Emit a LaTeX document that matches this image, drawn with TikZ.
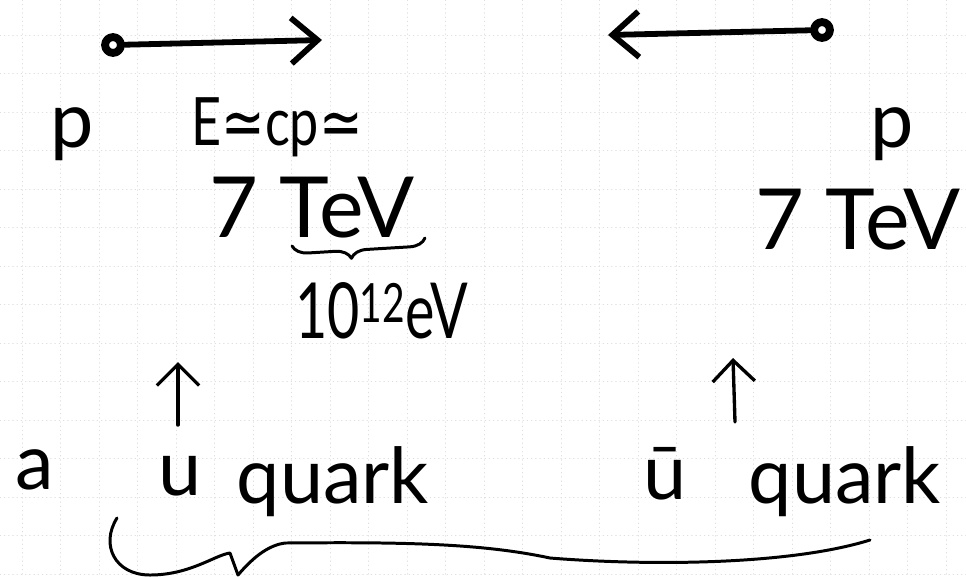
\documentclass[tikz,border=0pt]{standalone}
\usepackage{fontspec}
\setmainfont{Lato}
\newfontfamily\symfont{DejaVu Sans}
\usetikzlibrary{arrows.meta,decorations.pathreplacing}

\begin{document}
\begin{tikzpicture}[x=0.02cm,y=-0.02cm,line cap=round,line join=round]
 \tikzset{
  ink/.style={line width=1.7pt},
  beam/.style={line width=3.3pt,-{Straight Barb[length=15pt,width=26pt,line width=3.3pt]}},
  uparrow/.style={line width=1.9pt,-{Straight Barb[length=12pt,width=24pt,line width=1.9pt]}},
  proton/.style={draw,circle,line width=4.5pt,minimum size=9pt,inner sep=0pt},
  big/.style={font=\fontsize{44}{50}\selectfont},
  mid/.style={font=\fontsize{38}{44}\selectfont,xscale=0.78,transform shape},
 }
 \useasboundingbox (0,0) rectangle (966,576);
 \foreach \x in {22,60.5,...,966} \draw[gray!25,dotted] (\x,0)--(\x,576); %grid
 \foreach \y in {35,73.5,...,576} \draw[gray!25,dotted] (0,\y)--(966,\y);

 \node[proton] (pA) at (113,45) {}; %left proton
 \coordinate (pAend) at (322,40);
 \draw[beam] (pA)--(pAend);
 \node[proton] (pB) at (822,30) {}; %right proton
 \coordinate (pBend) at (608,35);
 \draw[beam] (pB)--(pBend);

 \node[big] (pL) at (72,134) {p};
 \node[mid] (E) at (277,127) {E{\symfont≃}cp{\symfont≃}};
 \node[big,font=\fontsize{48}{54}\selectfont] (sevenL) at (312,208) {7 TeV};
 \coordinate (brA) at (292,246);
 \coordinate (brB) at (425,238);
 \draw[ink,decorate,decoration={brace,mirror,amplitude=9pt,aspect=0.44}] (brA)--(brB); %TeV brace
 \node[big,font=\fontsize{44}{50}\selectfont,xscale=0.72,transform shape] (tenL) at (382,311) {10\textsuperscript{12}eV};

 \node[big] (pR) at (892,134) {p};
 \node[big,font=\fontsize{48}{54}\selectfont] (sevenR) at (858,220) {7 TeV};

 \coordinate (upA1) at (178,425);
 \coordinate (upA2) at (178,362);
 \draw[uparrow] (upA1)--(upA2);
 \coordinate (upB1) at (735,422);
 \coordinate (upB2) at (733,358);
 \draw[uparrow] (upB1)--(upB2);

 \node[big] (a) at (35,470) {a};
 \node[big] (uL) at (180,476) {u};
 \node[big] (quarkL) at (333,482) {quark};
 \node[big] (ubar) at (665,474) {\={u}};
 \node[big] (quarkR) at (845,482) {quark};

 \draw[ink] (117,518) .. controls (100,545) and (115,575) .. (150,575)
  .. controls (190,575) and (215,555) .. (230,553) -- (238,575)
  .. controls (255,555) and (270,545) .. (285,543)
  .. controls (400,542) and (480,543) .. (550,558)
  .. controls (650,566) and (790,565) .. (870,540); %big brace
\end{tikzpicture}
\end{document}
